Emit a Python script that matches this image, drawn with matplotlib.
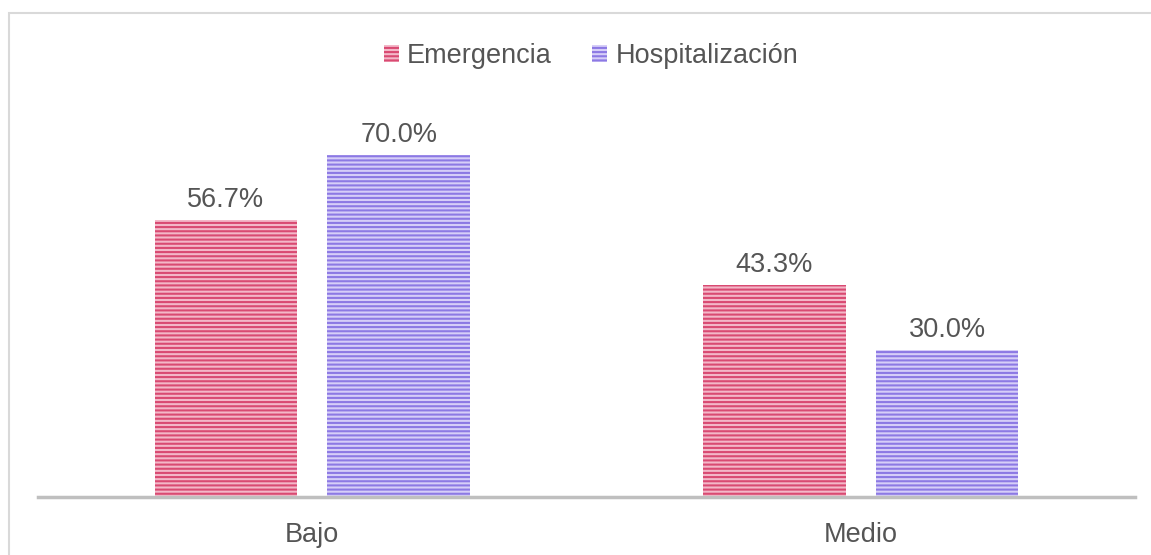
import matplotlib
matplotlib.use("Agg")
import matplotlib.pyplot as plt
import numpy as np
from matplotlib.patches import Rectangle

categories = ["Bajo", "Medio"]
series_names = ["Emergencia", "Hospitalización"]
emergencia = [56.7, 43.3]
hospitalizacion = [70.0, 30.0]

plt.rcParams['font.family'] = ['Liberation Sans', 'DejaVu Sans']
plt.rcParams['hatch.linewidth'] = 1.5

fig = plt.figure(figsize=(11.51, 5.55), dpi=100)
ax = fig.add_axes([38/1151, 1-497/555, (1135-38)/1151, (497-106)/555])

# outer border
fig.patches.append(Rectangle((8.5/1151, -0.1), 1.2, 1 - 13.5/555 + 0.1, transform=fig.transFigure,
                             fill=False, edgecolor='#D9D9D9', linewidth=1.5))

x = np.arange(len(categories))
w = 0.26
off = 0.1575
txt = '#555555'
styles = [
    dict(face='#F3B7C8', edge='#D94A72'),
    dict(face='#D6CEF8', edge='#8C79E4'),
]
for vals, name, sgn, st in [(emergencia, series_names[0], -1, styles[0]),
                            (hospitalizacion, series_names[1], 1, styles[1])]:
    bars = ax.bar(x + sgn*off, vals, w, facecolor=st['face'], edgecolor=st['edge'],
                  hatch='----', linewidth=0, label=name)
    for b, v in zip(bars, vals):
        ax.annotate(f"{v:.1f}%", (b.get_x()+b.get_width()/2, v), xytext=(0, 5),
                    textcoords='offset points', ha='center', va='bottom',
                    fontsize=19.5, color=txt)

ax.set_xlim(-0.5, 1.5)
ax.set_ylim(0, 80)
ax.set_yticks([])
ax.set_xticks(x)
ax.set_xticklabels(categories, fontsize=19.5, color=txt)
ax.tick_params(axis='x', length=0, pad=18)
for s in ['top', 'right', 'left']:
    ax.spines[s].set_visible(False)
ax.spines['bottom'].set_color('#BFBFBF')
ax.spines['bottom'].set_linewidth(2.5)
ax.patch.set_alpha(0)

fig.legend(loc='center', bbox_to_anchor=(591/1151, 1-56/555), ncol=2, frameon=False,
           fontsize=19.5, handlelength=0.55, handleheight=0.55, handletextpad=0.3,
           columnspacing=1.5, labelcolor=txt)

fig.savefig("out.png", dpi=100)
